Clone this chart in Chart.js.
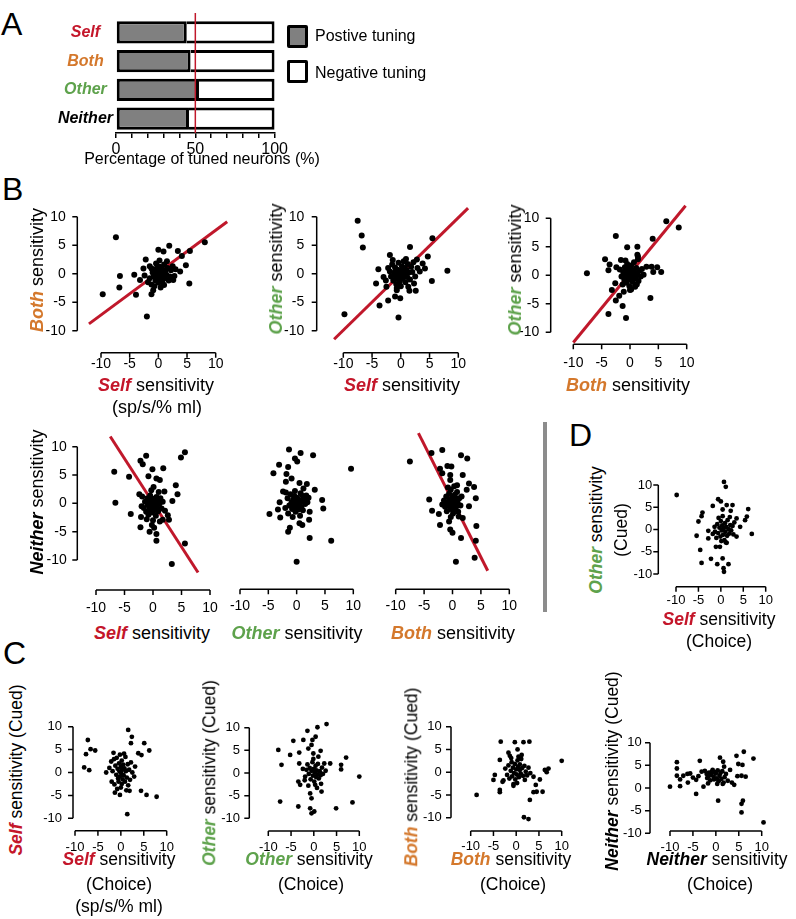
<!DOCTYPE html>
<html>
<head>
<meta charset="utf-8">
<script src="https://cdn.jsdelivr.net/npm/chart.js@4.4.1/dist/chart.umd.min.js"></script>
<style>
body{margin:0;width:796px;height:919px;position:relative;background:#fff;font-family:"Liberation Sans",Arial,Helvetica,sans-serif;overflow:hidden}
canvas{position:absolute}
.t{position:absolute;white-space:nowrap;font-size:18px;line-height:1;color:#000;transform:translate(-50%,-50%)}
.yt{transform:translate(-50%,-50%) rotate(-90deg)}
.sm{font-size:17.5px}
.s,.b,.o,.n{font-weight:bold;font-style:italic}
.s{color:#c4162a}.b{color:#d4782c}.o{color:#5ea24c}.n{color:#000}
.L{position:absolute;font-size:32px;line-height:1}
.box{position:absolute;width:15px;height:17px;border:3px solid #000;border-radius:2px}
.leg{position:absolute;font-size:16px;line-height:1;transform:translateY(-50%)}
#sep{position:absolute;left:543px;top:422px;width:4px;height:190px;background:#8c8c8c}
</style>
</head>
<body>
<div class="L" style="left:1px;top:8px">A</div>
<div class="L" style="left:2px;top:173px">B</div>
<div class="L" style="left:3px;top:637px">C</div>
<div class="L" style="left:569px;top:419px">D</div>

<canvas id="cA" style="left:0;top:0" width="290" height="170"></canvas>
<div class="t" style="left:202px;top:159px;font-size:16px">Percentage of tuned neurons (%)</div>
<div class="box" style="left:287px;top:25px;background:#808080"></div>
<div class="box" style="left:287px;top:60px;background:#fff"></div>
<div class="leg" style="left:315px;top:36px">Postive tuning</div>
<div class="leg" style="left:315px;top:73px">Negative tuning</div>

<canvas id="b1"></canvas><canvas id="b2"></canvas><canvas id="b3"></canvas>
<canvas id="b4"></canvas><canvas id="b5"></canvas><canvas id="b6"></canvas>
<canvas id="d1"></canvas>
<canvas id="c1"></canvas><canvas id="c2"></canvas><canvas id="c3"></canvas><canvas id="c4"></canvas>
<div id="sep"></div>

<!-- B titles -->
<div class="t yt" style="left:37px;top:270px"><span class="b">Both</span> sensitivity</div>
<div class="t" style="left:156px;top:385px"><span class="s">Self</span> sensitivity</div>
<div class="t" style="left:157px;top:407px">(sp/s/% ml)</div>
<div class="t yt" style="left:276px;top:269px"><span class="o">Other</span> sensitivity</div>
<div class="t" style="left:402px;top:385px"><span class="s">Self</span> sensitivity</div>
<div class="t yt" style="left:515px;top:270px"><span class="o">Other</span> sensitivity</div>
<div class="t" style="left:628px;top:385px"><span class="b">Both</span> sensitivity</div>
<div class="t yt" style="left:37px;top:502px"><span class="n">Neither</span> sensitivity</div>
<div class="t" style="left:152px;top:633px"><span class="s">Self</span> sensitivity</div>
<div class="t" style="left:297px;top:633px"><span class="o">Other</span> sensitivity</div>
<div class="t" style="left:453px;top:633px"><span class="b">Both</span> sensitivity</div>

<!-- D titles -->
<div class="t yt sm" style="left:597px;top:530px"><span class="o">Other</span> sensitivity</div>
<div class="t yt sm" style="left:622px;top:530px">(Cued)</div>
<div class="t sm" style="left:719px;top:620px"><span class="s">Self</span> sensitivity</div>
<div class="t sm" style="left:719px;top:642px">(Choice)</div>

<!-- C titles -->
<div class="t yt sm" style="left:17px;top:770px"><span class="s">Self</span> sensitivity (Cued)</div>
<div class="t sm" style="left:119px;top:860px"><span class="s">Self</span> sensitivity</div>
<div class="t sm" style="left:119px;top:885px">(Choice)</div>
<div class="t sm" style="left:119px;top:907px">(sp/s/% ml)</div>
<div class="t yt sm" style="left:210px;top:773px"><span class="o">Other</span> sensitivity (Cued)</div>
<div class="t sm" style="left:309px;top:860px"><span class="o">Other</span> sensitivity</div>
<div class="t sm" style="left:311px;top:885px">(Choice)</div>
<div class="t yt sm" style="left:412px;top:777px"><span class="b">Both</span> sensitivity (Cued)</div>
<div class="t sm" style="left:511px;top:860px"><span class="b">Both</span> sensitivity</div>
<div class="t sm" style="left:513px;top:885px">(Choice)</div>
<div class="t yt sm" style="left:613px;top:771px"><span class="n">Neither</span> sensitivity (Cued)</div>
<div class="t sm" style="left:717px;top:860px"><span class="n">Neither</span> sensitivity</div>
<div class="t sm" style="left:720px;top:885px">(Choice)</div>

<script>
const FONT = '"Liberation Sans", Arial, Helvetica, sans-serif';
const RED = '#c0182b';

// panel A
const groups = ['Self', 'Both', 'Other', 'Neither'];
const positivePct = [44.6, 47, 52.3, 46];
const negativePct = [55.4, 53, 47.7, 54];
const pctLabels = [0, 50, 100];
const groupColors = ['#c4162a', '#d4782c', '#5ea24c', '#000'];

// scatter ticks
const sensTicks = [-10, -5, 0, 5, 10];

// B: choice task, [x, y]
const selfBoth = [[-7.4,6.4],[-9.7,-3.6],[-6.7,-0.4],[-6.8,-2.4],[-3.9,-3.7],[-4.2,-0.2],[-2.0,-7.5],[-1.2,-3.6],[-0.9,-2.9],[-2.2,2.5],[-1.5,1.3],[0,4.2],[0.9,3.9],[1.9,4.9],[3.4,4.0],[4.1,3.1],[4.8,1.5],[3.8,0.4],[2.6,-1.1],[5.4,-1.7],[5.5,4.0],[8.1,5.5],[11.8,4.0],[1.0,-2.0],[2.0,-0.5],[-3.2,-1.1],[-2.6,0.9],
  [-1.8,-1.5],[-1.5,-0.8],[-1.2,-1.9],[-1.0,0.2],[-0.8,-0.5],[-0.6,0.8],[-0.5,-1.2],[-0.3,0.1],[-0.2,-0.6],[0,0.5],[0.1,-0.2],[0.2,1.2],[0.3,-1.0],[0.4,0.3],[0.5,-0.4],[0.6,0.9],[0.7,-1.5],[0.8,0.1],[1.0,1.6],[1.1,-0.8],[1.2,0.5],[1.4,-0.2],[1.6,1.0],[1.8,-1.2],[2.2,0.6],[2.5,1.3],[-0.4,1.8],[0.2,2.3],[-1.2,0.9],[0.4,-2.4],[-0.7,-2.2],[1.5,2.2],[2.8,-0.4],[3.0,0.8],[-2.4,-0.3],[0.0,-1.6],[-0.1,1.1]];
const selfOther = [[-7.5,9.3],[-6.8,6.7],[-6.6,4.6],[-9.8,-7.1],[-3.9,0.8],[-4.3,-1.7],[-3.7,-5.6],[-2.2,-4.7],[-2.5,-2.3],[-3.0,-0.6],[-1.9,3.3],[-1.0,-4.0],[-0.1,-4.3],[-0.4,-7.7],[-0.7,-2.9],[1.6,4.7],[1.5,-3.0],[2.6,-3.0],[2.3,-1.7],[4.7,3.0],[5.5,6.2],[5.4,-1.3],[8.1,0.5],[11.7,11.3],[3.8,1.8],[4.2,0.9],[2.8,2.5],[3.3,0.4],
  [-2.2,1.0],[-1.9,0.4],[-1.7,-0.5],[-1.5,1.6],[-1.3,-1.2],[-1.1,0.2],[-1.0,1.1],[-0.9,-0.4],[-0.8,-1.8],[-0.6,0.7],[-0.5,-0.9],[-0.4,1.9],[-0.3,0.0],[-0.2,-1.4],[0,0.5],[0.1,-0.3],[0.2,1.3],[0.3,-0.9],[0.4,0.4],[0.5,2.2],[0.6,-0.1],[0.7,1.0],[0.8,-1.5],[1.0,0.6],[1.1,-0.6],[1.2,1.7],[1.4,0.2],[1.6,-1.0],[1.8,1.2],[2.0,0.3],[2.2,2.0],[2.5,-0.5],[-0.7,-2.5],[0.0,-2.2],[-1.4,2.4],[0.9,2.6],[-2.6,-1.2],[2.9,1.0],[1.3,-2.3]];
const bothOther = [[-7.6,0.35],[3.8,11.5],[6.4,9.5],[8.6,8.4],[4.0,6.4],[-2.5,6.9],[-0.5,4.9],[1.3,5.0],[-4.4,2.8],[-3.8,0.9],[-3.6,1.9],[-2.4,1.4],[-1.6,2.7],[1.3,3.6],[-3.2,-2.6],[-2.6,-1.4],[-1.9,-3.6],[-2.5,-4.4],[-1.3,-5.4],[-3.8,-6.8],[-0.7,-7.5],[3.6,-4.0],[-1.1,-2.9],[0.0,-2.6],[3.8,1.5],[4.8,1.4],[5.5,0.6],[4.1,0.6],[2.4,0.1],[0.9,-1.7],[2.9,1.5],
  [-1.2,0.6],[-1.0,-0.8],[-0.9,1.4],[-0.7,0.1],[-0.6,-1.3],[-0.5,2.0],[-0.4,0.7],[-0.3,-0.4],[-0.2,1.2],[-0.1,-1.9],[0,0.3],[0.1,-0.7],[0.2,1.7],[0.3,0.0],[0.4,-1.1],[0.5,0.9],[0.6,-0.3],[0.7,2.3],[0.8,0.5],[1.0,-0.6],[1.1,1.3],[1.3,0.2],[1.5,-1.0],[1.7,0.8],[1.9,-0.2],[1.4,2.8],[1.4,3.3],[-1.5,-0.2],[-1.8,1.0],[2.1,1.1],[0.2,-2.5],[-0.8,2.6],[0.9,-2.0],[1.2,-1.6],[-1.3,-1.6]];
const selfNeither = [[-6.8,5.6],[-6.6,0.1],[-4.2,4.7],[-3.9,-1.9],[-2.2,7.5],[-1.8,6.9],[-1.2,8.4],[-2.4,1.6],[-0.8,4.8],[-0.1,6.0],[1.8,6.2],[5.6,9.0],[4.9,8.1],[0.6,4.4],[1.2,4.1],[0.1,2.9],[2.0,2.1],[4.0,3.2],[4.3,1.6],[3.4,0.4],[-2.1,-2.4],[-2.2,-4.2],[-0.6,-5.0],[-0.2,-3.8],[0.2,-4.3],[0.6,-5.4],[0.6,-6.6],[1.2,-3.2],[1.7,-2.9],[2.8,-2.9],[2.6,-2.1],[5.6,-7.1],[3.3,-10.7],[-0.2,-12.2],[11.9,-10.1],
  [-1.6,-0.8],[-1.4,0.3],[-1.2,-1.5],[-1.0,0.9],[-0.9,-0.3],[-0.8,-2.0],[-0.7,0.5],[-0.6,-1.0],[-0.5,1.4],[-0.4,-0.4],[-0.3,0.2],[-0.2,-1.6],[-0.1,0.8],[0,-0.7],[0.1,0.0],[0.2,-1.2],[0.3,0.6],[0.4,-0.3],[0.5,-2.2],[0.6,1.1],[0.7,-0.8],[0.8,0.4],[0.9,-1.4],[1.1,-0.1],[1.3,0.9],[1.5,-0.9],[1.7,0.3],[-1.9,1.2],[-2.0,-0.5],[-0.3,2.3],[1.0,2.0],[2.1,-1.3],[-1.1,-2.8],[0.0,-3.0]];
const otherNeither = [[-1.35,9.5],[0.7,8.9],[2.9,8.5],[-0.3,7.9],[0.1,7.4],[-3.1,6.8],[-1.5,6.4],[-4.1,5.3],[9.6,6.1],[-1.8,5.2],[-0.9,4.4],[-1.9,3.8],[0.5,3.6],[1.8,3.4],[1.2,2.6],[3.2,2.4],[-2.4,2.1],[1.1,1.3],[4.5,0.6],[4.7,-0.9],[-3.0,0.2],[-3.3,-1.1],[-4.8,-1.9],[-2.9,-2.5],[-1.5,-1.8],[2.3,-1.5],[2.2,-2.9],[0.5,-3.5],[1.0,-3.8],[-1.2,-4.3],[-1.5,-5.0],[2.3,-6.1],[6.1,-6.6],[0.0,-10.3],[11.2,-9.6],[-7.9,-11.9],
  [-1.6,0.9],[-1.3,-0.4],[-1.1,1.6],[-0.9,0.2],[-0.8,-1.0],[-0.6,0.7],[-0.5,-0.3],[-0.4,1.3],[-0.2,-1.5],[-0.1,0.4],[0,-0.6],[0.1,1.0],[0.2,0.0],[0.3,-1.1],[0.4,0.6],[0.5,-0.2],[0.7,1.8],[0.8,-0.7],[0.9,0.3],[1.1,-1.2],[1.3,0.8],[1.5,-0.1],[1.7,1.4],[1.9,0.2],[-2.0,-0.8],[-0.3,2.2],[-1.9,1.9],[0.6,-2.2],[2.1,1.0],[-0.7,-2.4]];
const bothNeither = [[-7.5,7.4],[-3.7,8.9],[-1.8,9.4],[1.5,8.5],[2.6,7.9],[-2.2,6.1],[-0.9,6.6],[-0.2,6.5],[-1.8,5.3],[-0.4,5.0],[1.8,5.0],[-0.4,4.1],[0.8,3.2],[2.9,3.5],[3.8,2.9],[4.1,0.9],[2.5,2.4],[-4.1,0.7],[-3.6,-1.3],[-2.4,-1.9],[2.9,-0.5],[1.8,-2.6],[-2.2,-3.8],[-0.6,-3.2],[-0.4,-4.6],[0.0,-5.2],[1.5,-6.1],[4.2,-4.0],[4.1,-6.6],[3.9,-9.6],[0.6,-10.3],[-0.6,-11.9],
  [-1.5,0.5],[-1.3,-0.6],[-1.1,1.2],[-1.0,-1.4],[-0.9,0.2],[-0.7,-0.4],[-0.6,1.7],[-0.5,0.6],[-0.4,-1.0],[-0.3,2.4],[-0.2,0.0],[-0.1,-0.8],[0,1.1],[0.1,-1.8],[0.2,0.4],[0.3,-0.3],[0.4,1.5],[0.5,-1.1],[0.6,0.7],[0.7,-0.5],[0.8,2.0],[0.9,0.1],[1.0,-1.5],[1.2,0.9],[1.4,-0.4],[-1.8,-0.2],[0.3,3.0],[-0.8,2.8],[1.1,-2.3],[-0.3,-2.4],[1.6,1.2],[0.0,-0.3]];

// regression lines, endpoints
const fitSelfBoth = [[-12.1,-8.8],[12.0,9.1]];
const fitSelfOther = [[-11.6,-11.5],[11.7,11.5]];
const fitBothOther = [[-10.0,-11.8],[9.8,12.2]];
const fitSelfNeither = [[-7.5,11.8],[7.9,-12.2]];
const fitBothNeither = [[-6.0,12.4],[6.2,-11.9]];

// D: self (choice) vs other (cued)
const selfChoiceOtherCued = [[-9.85,7.75],[0.7,10.7],[1.1,9.6],[-0.6,6.8],[0.0,6.3],[-1.8,5.3],[1.3,5.5],[2.6,5.5],[0.4,4.5],[2.2,4.2],[-4.1,3.8],[-4.3,3.0],[-5.0,1.8],[6.1,4.6],[5.8,2.9],[5.4,2.1],[3.5,2.5],[-5.4,-1.4],[-2.8,-2.0],[-2.8,-0.3],[-1.3,-0.5],[6.9,-1.0],[3.5,-1.6],[-4.6,-4.6],[-4.3,-7.5],[-2.2,-6.6],[-0.8,-7.8],[1.7,-7.8],[0.4,-6.5],[0.6,-8.7],[0.7,-9.5],[-3.3,-11.0],[-1.1,-3.9],[-0.2,-3.9],[1.3,-3.0],[4.3,0.6],
  [-0.8,1.2],[-0.6,-0.8],[-0.3,0.4],[-0.1,-1.6],[0,1.9],[0.2,-0.2],[0.3,0.9],[0.5,-1.2],[0.6,0.3],[0.8,-2.4],[0.9,1.4],[1.0,-0.5],[1.2,0.6],[1.4,-1.4],[1.5,2.1],[1.7,0.1],[1.9,-0.9],[2.1,1.0],[2.3,-0.2],[2.6,0.8],[2.8,-1.1],[3.0,1.6],[-1.4,0.6],[-1.0,-1.9],[0.4,3.0],[-0.5,2.6],[1.1,-2.9],[-1.8,-1.0],[2.0,2.8],[0.1,-2.6]];

// C: choice vs cued
const selfSelf = [[-7.2,7.1],[-7.6,4.0],[-6.6,5.1],[-5.6,4.8],[-8.0,1.1],[-6.9,0.5],[-3.2,0.0],[-1.6,4.3],[-2.1,2.4],[1.6,9.3],[2.4,7.8],[5.1,6.4],[6.2,4.8],[4.5,3.8],[3.8,4.2],[2.2,6.4],[3.1,1.3],[2.9,-0.9],[-1.3,-4.4],[-0.2,-4.9],[1.9,-4.0],[4.4,-4.0],[5.6,-4.9],[7.8,-5.3],[1.4,-9.1],[-0.5,-2.0],[-2.0,-2.0],[0.2,-2.5],
  [-1.5,2.9],[-1.2,1.5],[-1.0,-0.5],[-0.9,3.2],[-0.7,0.8],[-0.6,-1.3],[-0.4,2.0],[-0.3,0.2],[-0.2,-0.9],[0,1.2],[0.1,-0.2],[0.2,2.6],[0.3,0.6],[0.4,-1.5],[0.5,1.7],[0.6,-0.6],[0.8,0.9],[0.9,-2.0],[1.0,3.4],[1.1,0.3],[1.3,-1.1],[1.5,1.8],[1.6,-2.8],[1.8,0.6],[2.0,-1.6],[2.2,2.2],[-1.8,0.3],[-1.4,-2.6],[0.0,-3.3],[-0.8,-3.6],[0.7,4.1],[-0.2,3.9],[2.5,0.0],[1.2,-3.9],[-2.5,1.0]];
const otherOther = [[-7.8,5.1],[-7.1,1.8],[-7.4,-6.3],[-5.2,4.0],[-4.5,7.1],[-3.4,-7.4],[-3.2,2.1],[-3.2,4.5],[-2.3,7.3],[-1.9,-10.9],[-1.4,9.3],[-1.2,5.4],[-0.5,6.2],[-0.3,7.3],[0.4,8.0],[0.8,10.1],[2.8,10.8],[1.5,4.9],[1.0,3.6],[-0.1,4.3],[3.6,2.1],[7.1,3.4],[6.0,1.8],[6.0,0.8],[10.0,-0.8],[11.6,10.4],[4.9,-7.8],[8.5,-6.5],[1.7,-4.1],[-0.8,-4.5],[-0.5,-5.6],[-0.8,-7.8],[-0.5,-8.9],[0.1,-8.5],[-3.4,-1.9],[-3.0,-2.6],[0.3,-2.6],[-1.9,-0.8],[-1.6,0.7],
  [-1.4,1.9],[-1.1,-0.2],[-0.9,1.1],[-0.7,-1.4],[-0.5,0.5],[-0.3,2.4],[-0.2,-0.6],[0,0.9],[0.1,-1.9],[0.2,0.1],[0.4,1.6],[0.5,-0.9],[0.6,0.6],[0.8,-0.3],[0.9,2.0],[1.1,-1.2],[1.3,0.4],[1.5,-0.5],[1.8,1.2],[2.0,-0.2],[2.3,2.1],[-2.4,0.9],[-2.0,-1.6],[-1.2,-2.8],[0.7,-3.3],[2.6,0.5],[-0.1,3.1],[1.6,-2.4]];
const bothBoth = [[-11.2,1.7],[-8.7,-5.0],[-3.4,6.7],[-0.3,6.6],[1.6,6.6],[2.9,6.7],[-3.6,2.7],[-1.7,4.3],[-1.4,3.6],[0.3,5.0],[0.5,3.4],[-4.7,-0.6],[-5.0,-1.7],[-3.6,-3.9],[-3.6,-4.4],[-3.0,-2.1],[-0.6,-3.0],[3.0,-6.1],[3.8,-4.4],[4.5,-4.3],[5.8,-4.3],[5.2,-1.6],[4.3,-2.8],[3.8,-1.0],[1.9,-1.7],[1.7,-9.9],[2.7,-10.3],[6.7,0.0],[7.1,0.8],[10.0,2.5],[6.3,0.5],[0.8,0.5],
  [-2.4,0.8],[-2.0,-0.6],[-1.7,1.5],[-1.5,-1.4],[-1.2,0.3],[-1.0,2.2],[-0.9,-0.9],[-0.7,1.0],[-0.5,-0.2],[-0.3,1.8],[-0.2,-1.6],[0,0.6],[0.1,-0.5],[0.3,2.6],[0.4,1.2],[0.6,-1.1],[0.8,1.7],[1.0,-0.3],[1.1,2.9],[1.3,0.9],[1.5,-0.8],[1.8,1.4],[2.1,0.1],[2.4,-0.7],[2.7,1.0],[-2.8,-1.8],[-1.1,3.1],[0.2,-2.4],[3.1,-0.2],[-0.6,-2.6],[1.2,3.8]];
const neitherNeither = [[-11.5,6.4],[-10.0,0.3],[-8.5,5.7],[-8.5,4.3],[-8.5,2.7],[-7.8,0.4],[-7.8,1.9],[-7.1,2.7],[-6.5,11.2],[-6.2,3.1],[-5.6,3.2],[-6.1,1.2],[-4.3,1.8],[-4.3,-1.3],[-3.5,6.0],[-2.7,0.3],[-3.1,3.6],[-2.0,3.1],[-1.3,12.2],[-0.9,3.6],[2.5,13.0],[0.5,-2.8],[0.9,6.7],[1.6,5.8],[1.8,4.7],[0.8,2.7],[1.5,0.9],[3.1,4.0],[3.5,1.2],[4.0,0.7],[4.5,7.1],[4.9,5.3],[5.8,5.1],[4.7,2.6],[6.1,8.0],[5.6,2.7],[6.5,2.5],[8.2,6.5],[5.6,-3.5],[5.9,-2.8],[5.6,-5.4],[10.4,-7.6],[0.0,3.2],[-0.5,2.5],[-1.6,2.5],
  [-2.4,3.8],[-1.9,2.2],[-1.5,3.4],[-1.2,1.7],[-1.0,2.9],[-0.7,4.0],[-0.4,1.9],[-0.2,3.5],[0.2,2.1],[0.4,3.9],[0.6,1.5],[1.0,3.3],[1.2,2.0],[1.4,3.7],[1.9,2.4],[2.2,3.1],[-3.8,2.6],[-5.0,2.3],[2.6,1.6],[0.3,0.9],[-1.7,1.0],[1.7,1.2]];

// red line at 50 %
const midLine = {
  id: 'midLine',
  afterDatasetsDraw(chart) {
    const ctx = chart.ctx, a = chart.chartArea;
    const x = chart.scales.x.getPixelForValue(50);
    ctx.save();
    ctx.strokeStyle = RED;
    ctx.lineWidth = 1.5;
    ctx.beginPath();
    ctx.moveTo(x, a.top - 5);
    ctx.lineTo(x, a.bottom);
    ctx.stroke();
    ctx.restore();
  }
};

new Chart(document.getElementById('cA'), {
  type: 'bar',
  data: {
    labels: groups,
    datasets: [
      {label: 'Postive tuning', data: positivePct, backgroundColor: '#808080', borderColor: '#000', borderWidth: 3, borderSkipped: false},
      {label: 'Negative tuning', data: negativePct, backgroundColor: '#fff', borderColor: '#000', borderWidth: 3, borderSkipped: 'left'}
    ]
  },
  options: {
    indexAxis: 'y',
    responsive: false,
    animation: false,
    events: [],
    layout: {padding: {left: 6, right: 14, top: 18, bottom: 0}},
    datasets: {bar: {barPercentage: 0.78, categoryPercentage: 1}},
    scales: {
      x: {
        stacked: true, min: 0, max: 100,
        afterFit(s) { s.height = 37; },
        border: {display: true, color: '#000', width: 1.5},
        grid: {display: true, drawOnChartArea: false, drawTicks: true, tickLength: 5, color: '#000', lineWidth: 1.5},
        ticks: {stepSize: 10, autoSkip: false, maxRotation: 0, padding: 2, color: '#000', font: {size: 16, family: FONT},
          callback: v => pctLabels.includes(v) ? String(v) : ''}
      },
      y: {
        stacked: true,
        afterFit(s) { s.width = 110; },
        border: {display: false},
        grid: {display: false, drawTicks: false},
        ticks: {crossAlign: 'center', padding: 3, color: c => groupColors[c.index], font: {size: 16, style: 'italic', weight: 'bold', family: FONT}}
      }
    },
    plugins: {legend: {display: false}, tooltip: {enabled: false}}
  },
  plugins: [midLine]
});

// R-style detached axes drawn from the chart's scales
const rAxes = {
  id: 'rAxes',
  afterDatasetsDraw(chart, args, o) {
    const ctx = chart.ctx, sx = chart.scales.x, sy = chart.scales.y;
    ctx.save();
    ctx.strokeStyle = '#000';
    ctx.fillStyle = '#000';
    ctx.lineWidth = 1.5;
    ctx.font = o.fs + 'px ' + FONT;
    const ay = o.xAxisY - o.top;
    ctx.beginPath();
    ctx.moveTo(sx.getPixelForValue(-10), ay);
    ctx.lineTo(sx.getPixelForValue(10), ay);
    sensTicks.forEach(v => {
      const p = sx.getPixelForValue(v);
      ctx.moveTo(p, ay);
      ctx.lineTo(p, ay + 5);
    });
    ctx.stroke();
    ctx.textAlign = 'center';
    ctx.textBaseline = 'middle';
    sensTicks.forEach(v => ctx.fillText(String(v), sx.getPixelForValue(v), ay + o.xOff));
    if (o.yAxisX != null) {
      const ax = o.yAxisX - o.left;
      ctx.beginPath();
      ctx.moveTo(ax, sy.getPixelForValue(10));
      ctx.lineTo(ax, sy.getPixelForValue(-10));
      sensTicks.forEach(v => {
        const p = sy.getPixelForValue(v);
        ctx.moveTo(ax, p);
        ctx.lineTo(ax - 5, p);
      });
      ctx.stroke();
      ctx.textAlign = 'right';
      sensTicks.forEach(v => ctx.fillText(String(v), ax - o.yGap, sy.getPixelForValue(v)));
    }
    ctx.restore();
  }
};

function scatter(id, g, pts, fit) {
  const cv = document.getElementById(id);
  const left = Math.round((g.yAxisX != null ? g.yAxisX : g.px0) - 44);
  const top = Math.round(g.py0 - 30);
  const w = Math.round(g.px1 + 34 - left);
  const h = Math.round(g.xAxisY + 32 - top);
  cv.style.left = left + 'px';
  cv.style.top = top + 'px';
  cv.width = w;
  cv.height = h;
  const datasets = [{
    data: pts.map(p => ({x: p[0], y: p[1]})),
    pointRadius: g.r, pointBackgroundColor: '#000', pointBorderWidth: 0, clip: false, order: 0
  }];
  if (fit) {
    datasets.push({
      data: fit.map(p => ({x: p[0], y: p[1]})),
      showLine: true, borderColor: RED, borderWidth: 3, pointRadius: 0, clip: false, order: 1
    });
  }
  new Chart(cv, {
    type: 'scatter',
    data: {datasets},
    options: {
      responsive: false,
      animation: false,
      events: [],
      layout: {padding: {left: g.px0 - left, right: left + w - g.px1, top: g.py0 - top, bottom: top + h - g.py1}},
      scales: {x: {display: false, min: -10, max: 10}, y: {display: false, min: -10, max: 10}},
      plugins: {legend: {display: false}, tooltip: {enabled: false},
        rAxes: Object.assign({left, top}, g)}
    },
    plugins: [rAxes]
  });
}

scatter('b1', {px0: 101, px1: 215.7, py0: 216.7, py1: 330.7, yAxisX: 77.3, xAxisY: 352.7, yGap: 11.5, xOff: 11.6, fs: 14, r: 3}, selfBoth, fitSelfBoth);
scatter('b2', {px0: 343.3, px1: 458.3, py0: 216.7, py1: 330.7, yAxisX: 316.7, xAxisY: 352.7, yGap: 12.5, xOff: 11, fs: 14, r: 3}, selfOther, fitSelfOther);
scatter('b3', {px0: 573.3, px1: 686.7, py0: 218.3, py1: 332.3, yAxisX: 550.7, xAxisY: 344.3, yGap: 11.4, xOff: 19, fs: 14, r: 3}, bothOther, fitBothOther);
scatter('b4', {px0: 96, px1: 210, py0: 446.7, py1: 560, yAxisX: 77.3, xAxisY: 590, yGap: 10.6, xOff: 18, fs: 14, r: 3}, selfNeither, fitSelfNeither);
scatter('b5', {px0: 240, px1: 353.3, py0: 446.7, py1: 560, yAxisX: null, xAxisY: 589.3, yGap: 0, xOff: 17, fs: 14, r: 3}, otherNeither, null);
scatter('b6', {px0: 395.7, px1: 509.3, py0: 446.7, py1: 560, yAxisX: null, xAxisY: 589.3, yGap: 0, xOff: 17, fs: 14, r: 3}, bothNeither, fitBothNeither);
scatter('d1', {px0: 676, px1: 765.7, py0: 485, py1: 574, yAxisX: 658.3, xAxisY: 586.7, yGap: 6, xOff: 13.3, fs: 13, r: 2.4}, selfChoiceOtherCued, null);
scatter('c1', {px0: 75, px1: 166.7, py0: 726.7, py1: 818.3, yAxisX: 73, xAxisY: 830.7, yGap: 11, xOff: 16.5, fs: 13, r: 2.4}, selfSelf, null);
scatter('c2', {px0: 268.3, px1: 359.3, py0: 727.7, py1: 818.3, yAxisX: 249.3, xAxisY: 831, yGap: 9.3, xOff: 16.3, fs: 13, r: 2.4}, otherOther, null);
scatter('c3', {px0: 470.7, px1: 561.7, py0: 726.7, py1: 817.7, yAxisX: 451, xAxisY: 831, yGap: 9.3, xOff: 15.7, fs: 13, r: 2.4}, bothBoth, null);
scatter('c4', {px0: 670, px1: 761.7, py0: 742.7, py1: 833.3, yAxisX: 650, xAxisY: 831, yGap: 8.3, xOff: 16.3, fs: 13, r: 2.4}, neitherNeither, null);
</script>
</body>
</html>
